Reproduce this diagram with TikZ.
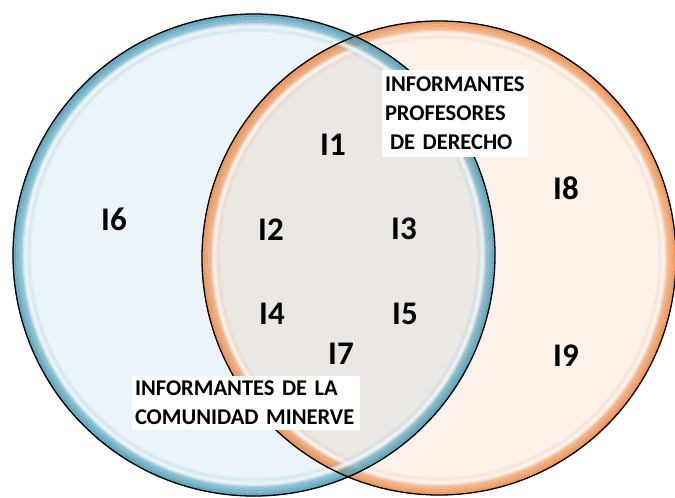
\documentclass[tikz,border=0pt]{standalone}
\usepackage{fontspec}
\setmainfont{Carlito}
\definecolor{blueBase}{HTML}{EAF4FA}
\definecolor{blueEdge}{HTML}{4A9CB6}
\definecolor{peachBase}{HTML}{FDF2EA}
\definecolor{orangeEdge}{HTML}{EC8A48}
\definecolor{greyBase}{HTML}{EBE8E3}
\tikzset{
  num/.style={font=\fontsize{33}{40}\selectfont\bfseries, inner sep=0pt},
  lbl/.style={font=\fontsize{22.5}{29}\selectfont\bfseries, fill=white, align=left, inner xsep=3pt, inner ysep=0pt, anchor=center},
  outline/.style={draw=black, line width=1.3pt},
}
\newcommand{\myrim}[4]{% center x, center y, radius, colour
  \foreach \d in {0,0.6,...,18.6}{
    \pgfmathsetmacro\rr{#3-\d}
    \pgfmathsetmacro\aa{0.95*(1-\d/19.2)^1.3}
    \draw[draw=#4, draw opacity=\aa, line width=0.7pt] (#1,#2) circle[radius=\rr pt];
  }
  \foreach \d in {9,9.6,...,16.2}{
    \pgfmathsetmacro\rr{#3-\d}
    \pgfmathsetmacro\aa{0.8*(1-abs(\d-12.5)/3.8)}
    \draw[draw=white, draw opacity=\aa, line width=0.7pt] (#1,#2) circle[radius=\rr pt];
  }
}
\begin{document}
\begin{tikzpicture}[x=1pt,y=-1pt]
\useasboundingbox (0,0) rectangle (675,498);
% left circle
\fill[blueBase] (254,255) circle[radius=241pt];
\myrim{254}{255}{241}{blueEdge}
% right circle
\fill[peachBase] (439,258) circle[radius=237pt];
\myrim{439}{258}{237}{orangeEdge}
% intersection
\begin{scope}
  \clip (254,255) circle[radius=241pt];
  \clip (439,258) circle[radius=237pt];
  \fill[greyBase] (439,258) circle[radius=237pt];
  \myrim{439}{258}{237}{orangeEdge}
  \myrim{254}{255}{241}{blueEdge}
\end{scope}
% outlines
\draw[outline] (254,255) circle[radius=241pt];
\draw[outline] (439,258) circle[radius=237pt];
% labels
\node[lbl, minimum width=146pt, minimum height=87pt, text width=140pt] (lprof) at (455,113.5) {INFORMANTES\\PROFESORES\\\hspace*{5pt}DE DERECHO};
\node[lbl, minimum width=228pt, minimum height=54pt, text width=222pt] (lcom) at (246,403) {INFORMANTES DE LA\\COMUNIDAD MINERVE};
% numbers
\node[num] (i1) at (333,145) {I1};
\node[num] (i2) at (271,230) {I2};
\node[num] (i3) at (404,229) {I3};
\node[num] (i4) at (272,314) {I4};
\node[num] (i5) at (405,314) {I5};
\node[num] (i6) at (114,219) {I6};
\node[num] (i7) at (341,354) {I7};
\node[num] (i8) at (566,188) {I8};
\node[num] (i9) at (566,356) {I9};
\end{tikzpicture}
\end{document}
